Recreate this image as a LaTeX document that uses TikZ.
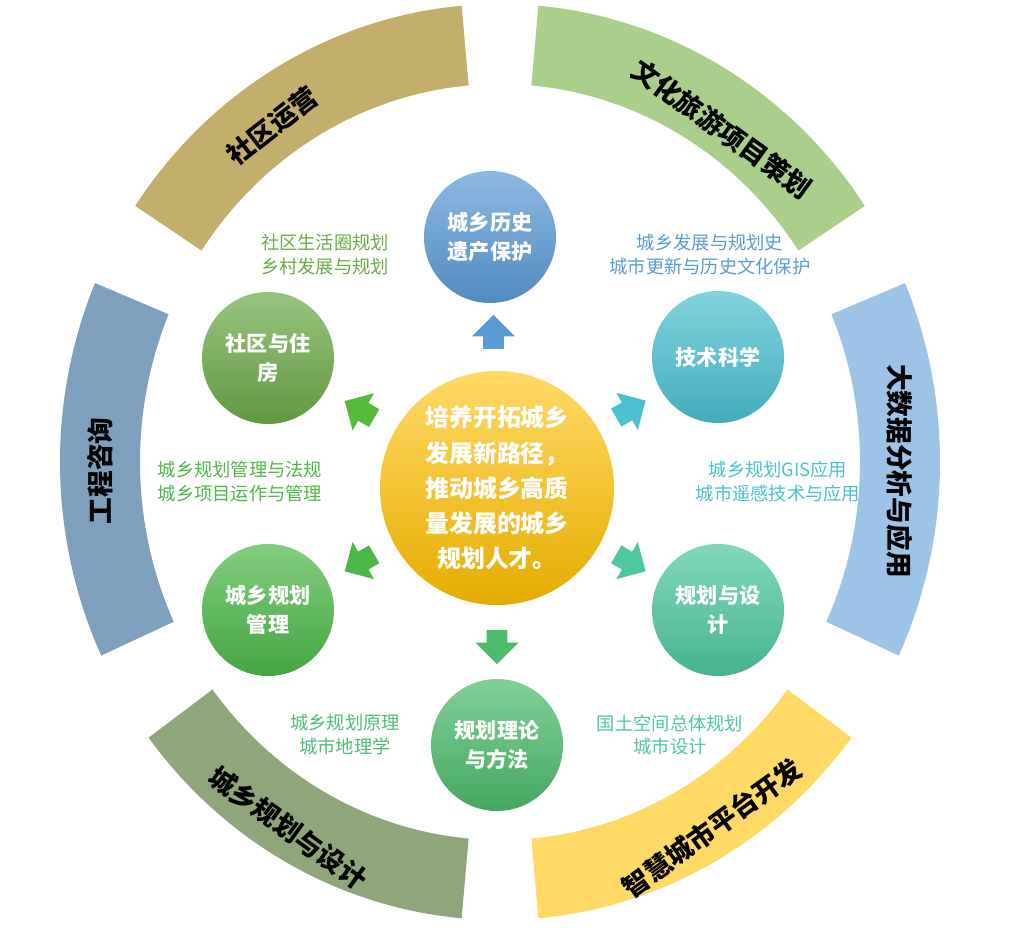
\documentclass[tikz,border=0pt]{standalone}
\usepackage{fontspec}
\setmainfont{Noto Sans CJK SC}
\usetikzlibrary{shapes.arrows, calc}

\definecolor{cTan}{HTML}{C4AE6C}
\definecolor{cLeaf}{HTML}{A9CF8A}
\definecolor{cSky}{HTML}{9DC3E6}
\definecolor{cSun}{HTML}{FFD966}
\definecolor{cSage}{HTML}{8FA67A}
\definecolor{cSteel}{HTML}{7F9FBF}
\definecolor{cBlue}{HTML}{5B9BD5}
\definecolor{cTeal}{HTML}{4BC0CF}
\definecolor{cMint}{HTML}{4DC7A0}
\definecolor{cGrass}{HTML}{4CBB6A}
\definecolor{cGreen}{HTML}{4CB848}
\definecolor{cOlive}{HTML}{6BAA48}
\definecolor{cGold}{HTML}{FFC000}

\tikzset{
  ringtext/.style={font=\bfseries\fontsize{19}{22}\selectfont, text=black},
  topic/.style={circle, minimum size=3.3cm, inner sep=0pt, align=center, text=white,
    font=\bfseries\fontsize{15}{21}\selectfont},
  note/.style={align=center, font=\fontsize{13}{17}\selectfont},
  push/.style={single arrow, minimum height=0.85cm, inner sep=0.25cm,
    single arrow head extend=0.28cm, draw=none}
}

\begin{document}
\begin{tikzpicture}[x=0.025cm, y=0.025cm]
\useasboundingbox (0,0) rectangle (1024,941);
% outer ring
\foreach \a/\b/\c in {95/146/cTan, 34/85/cLeaf, -25/23/cSky, -85/-37/cSun,
  -143/-95/cSage, 157/205/cSteel}
  \fill[\c] ([shift={(500,479)}]\a:440 and 458) arc[start angle=\a, end angle=\b, x radius=440, y radius=458]
    -- ([shift={(500,479)}]\b:360 and 378) arc[start angle=\b, end angle=\a, x radius=360, y radius=378] -- cycle;
\node[ringtext, rotate=38] at (272,815) {社区运营};
\node[ringtext, rotate=-36] at (722,812) {文化旅游项目策划};
\node[ringtext, rotate=-90] at (900,470) {大数据分析与应用};
\node[ringtext, rotate=36] at (712,113) {智慧城市平台开发};
\node[ringtext, rotate=-36] at (288,113) {城乡规划与设计};
\node[ringtext, rotate=90] at (100,470) {工程咨询};
% circles
\node[topic, top color=cGold!60, bottom color=cGold!90!black, minimum size=5.85cm,
  font=\bfseries\fontsize{17}{25}\selectfont] (core) at (497,453)
  {培养开拓城乡\\发展新路径，\\推动城乡高质\\量发展的城乡\\规划人才。};
\node[topic, top color=cBlue!70, bottom color=cBlue!90!black] (heritage) at (490,704) {城乡历史\\遗产保护};
\node[topic, top color=cTeal!70, bottom color=cTeal!90!black] (tech) at (718,584) {技术科学};
\node[topic, top color=cMint!70, bottom color=cMint!90!black] (design) at (718,331) {规划与设\\计};
\node[topic, top color=cGrass!70, bottom color=cGrass!90!black] (theory) at (497,196) {规划理论\\与方法};
\node[topic, top color=cGreen!70, bottom color=cGreen!90!black] (manage) at (268,331) {城乡规划\\管理};
\node[topic, top color=cOlive!70, bottom color=cOlive!90!black] (house) at (268,583) {社区与住\\房};
% arrows
\node[push, fill=cBlue, rotate=90] at ($(core.90)!0.5!(heritage.270)$) {};
\node[push, fill=cTeal, rotate=30] at ($(core.30)!0.45!(tech.210)$) {};
\node[push, fill=cMint, rotate=-30] at ($(core.-30)!0.45!(design.150)$) {};
\node[push, fill=cGrass, rotate=-90] at ($(core.270)!0.5!(theory.90)$) {};
\node[push, fill=cGreen, rotate=210] at ($(core.210)!0.45!(manage.30)$) {};
\node[push, fill=cOlive!80!green, rotate=150] at ($(core.150)!0.45!(house.-30)$) {};
% notes
\node[note, text=cOlive] (n1) at (325,686) {社区生活圈规划\\乡村发展与规划};
\node[note, text=cBlue] (n2) at (710,686) {城乡发展与规划史\\城市更新与历史文化保护};
\node[note, text=cGreen!90!cOlive] (n3) at (240,459) {城乡规划管理与法规\\城乡项目运作与管理};
\node[note, text=cTeal] (n4) at (778,459) {城乡规划GIS应用\\城市遥感技术与应用};
\node[note, text=cGrass!80!cMint] (n5) at (345,206) {城乡规划原理\\城市地理学};
\node[note, text=cMint] (n6) at (670,206) {国土空间总体规划\\城市设计};
\end{tikzpicture}
\end{document}
